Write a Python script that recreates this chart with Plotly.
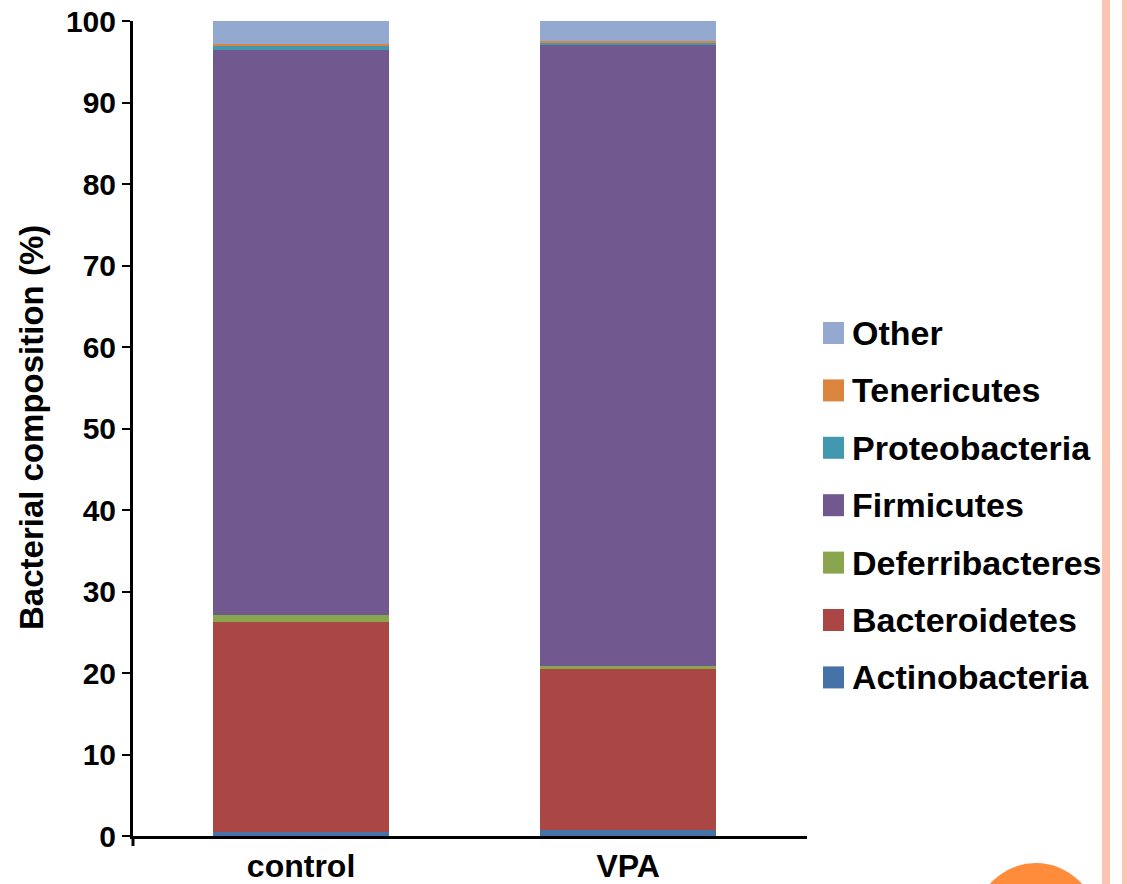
import plotly.graph_objects as go

# ---- data ----
groups = ["control", "VPA"]
phyla = ["Actinobacteria", "Bacteroidetes", "Deferribacteres", "Firmicutes",
         "Proteobacteria", "Tenericutes", "Other"]
actinobacteria = [0.5, 0.7]
bacteroidetes = [25.8, 19.9]
deferribacteres = [0.8, 0.2]
firmicutes = [69.3, 76.25]
proteobacteria = [0.6, 0.25]
tenericutes = [0.2, 0.2]
other = [2.8, 2.5]
series = [actinobacteria, bacteroidetes, deferribacteres, firmicutes,
          proteobacteria, tenericutes, other]
colors = ["#4572A7", "#AA4643", "#89A54E", "#71588F", "#4198AF", "#DB843D", "#93A9CF"]
y_ticks = list(range(0, 101, 10))

FONT = "Liberation Sans, Arial, sans-serif"

fig = go.Figure()
for name, vals, col in zip(phyla, series, colors):
    fig.add_trace(go.Bar(x=groups, y=vals, name=name, marker_color=col,
                         marker_line_width=0, width=0.538, showlegend=False))

# plot area in pixels: x 133..807, y 21..836
W, H = 1127, 884
L, R, T, B = 133, 807, 21, 836
def px(x):
    return (x - L) / (R - L)
def py(y):
    return (B - y) / (B - T)

fig.update_layout(
    barmode="stack",
    width=W, height=H,
    margin=dict(l=L, r=W - R, t=T, b=H - B, autoexpand=False),
    paper_bgcolor="white", plot_bgcolor="white",
    font=dict(family=FONT, color="black"),
    bargap=0,
)
fig.update_xaxes(
    range=[-0.514, 1.547], showline=True, linecolor="black", linewidth=3,
    ticks="", showgrid=False, zeroline=False,
    tickfont=dict(size=32, family=FONT, weight="bold"),
)
fig.update_yaxes(
    range=[0, 100], tickvals=y_ticks, showline=True, linecolor="black", linewidth=3,
    ticks="outside", ticklen=8, tickwidth=2, tickcolor="black",
    showgrid=False, zeroline=False,
    tickfont=dict(size=30, family=FONT, weight="bold"),
)

# y-axis title
fig.add_annotation(xref="paper", yref="paper", x=px(31), y=py(428),
                   xanchor="center", yanchor="middle", textangle=-90, showarrow=False,
                   text="Bacterial composition (%)",
                   font=dict(size=33, family=FONT, weight="bold", color="black"))

# x-axis left boundary tick
fig.add_shape(type="line", xref="paper", yref="paper", x0=0, x1=0,
              y0=0, y1=-(846 - B) / (B - T), line=dict(color="black", width=3))

# manual legend (top item = last series)
leg_top = 333
leg_step = 57.4
for i, (name, col) in enumerate(zip(phyla[::-1], colors[::-1])):
    cy = leg_top + i * leg_step
    fig.add_shape(type="rect", xref="paper", yref="paper",
                  x0=px(823), x1=px(844), y0=py(cy + 11), y1=py(cy - 11),
                  fillcolor=col, line_width=0)
    fig.add_annotation(xref="paper", yref="paper", x=px(850), y=py(cy),
                       xanchor="left", yanchor="middle", showarrow=False,
                       text=name, font=dict(size=34, family=FONT, weight="bold", color="black"))

# slide decorations on the right edge
fig.add_shape(type="rect", xref="paper", yref="paper", x0=px(1102), x1=px(1110),
              y0=py(890), y1=py(-5), fillcolor="#FDC5B0", line_width=0, layer="below")
fig.add_shape(type="rect", xref="paper", yref="paper", x0=px(1122), x1=px(1130),
              y0=py(890), y1=py(-5), fillcolor="#FDC5B0", line_width=0, layer="below")
fig.add_shape(type="circle", xref="paper", yref="paper", x0=px(975), x1=px(1097),
              y0=py(985), y1=py(863), fillcolor="#FF8C3A", line_width=0)

fig.write_html("out.html", config={"displayModeBar": False},
               post_script="document.body.style.margin='0';document.body.style.overflow='hidden';")
